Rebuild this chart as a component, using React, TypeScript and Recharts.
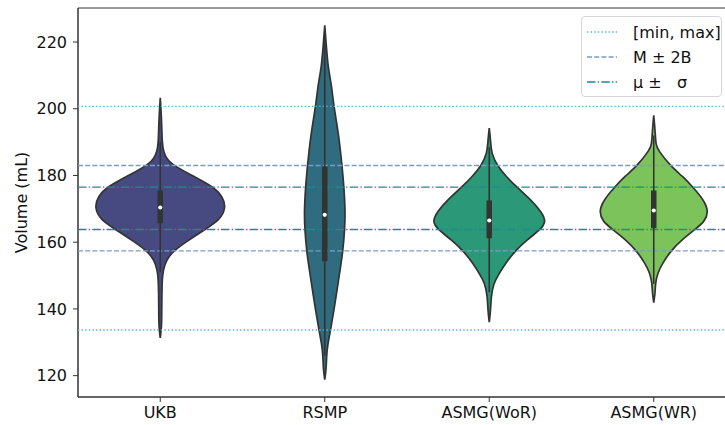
import { ComposedChart, Scatter, XAxis, YAxis, ReferenceLine, ReferenceArea } from "recharts";

const CATEGORIES = ["UKB", "RSMP", "ASMG(WoR)", "ASMG(WR)"];
const COLORS = ["#474a80", "#2f6c7f", "#2b9878", "#7cc35c"];

// violin outlines: volume levels and half-widths (in category units)
const UKB_Y = [131.3, 135, 140, 145, 148.8, 151.7, 154.7, 157.4, 160.2, 163.8, 166.7, 170.4, 173.7, 176.7, 180, 183.5, 185, 187, 190, 196, 203.3];
const UKB_W = [0, 0.009, 0.009, 0.01, 0.012, 0.018, 0.037, 0.08, 0.16, 0.27, 0.364, 0.4, 0.38, 0.32, 0.19, 0.065, 0.04, 0.02, 0.011, 0.009, 0];
const RSMP_Y = [118.8, 122, 125.7, 128.7, 133.9, 142.7, 149.7, 157.4, 163.9, 168.7, 176.5, 183, 192.6, 200.7, 207.5, 212.5, 218.5, 225];
const RSMP_W = [0, 0.009, 0.011, 0.016, 0.036, 0.066, 0.087, 0.111, 0.121, 0.125, 0.117, 0.105, 0.084, 0.055, 0.04, 0.02, 0.01, 0];
const WOR_Y = [136, 140, 143.7, 147.7, 150.2, 153.7, 157.4, 160.7, 163.9, 166.2, 169.2, 172.7, 176.5, 179.7, 182.9, 186.7, 190, 194.2];
const WOR_W = [0, 0.009, 0.011, 0.027, 0.055, 0.1, 0.157, 0.23, 0.314, 0.347, 0.316, 0.253, 0.167, 0.103, 0.048, 0.013, 0.009, 0];
const WR_Y = [141.9, 145, 147.7, 150.7, 153.7, 157.4, 160.7, 163.9, 166.2, 169.2, 172.7, 176.5, 179.7, 182.9, 187.7, 189.2, 193, 198];
const WR_W = [0, 0.009, 0.01, 0.023, 0.053, 0.104, 0.17, 0.253, 0.31, 0.334, 0.304, 0.238, 0.177, 0.1, 0.025, 0.013, 0.009, 0];

const PROFILES = [
  [UKB_Y, UKB_W],
  [RSMP_Y, RSMP_W],
  [WOR_Y, WOR_W],
  [WR_Y, WR_W],
];

// inner box
const Q1 = [165.7, 154.3, 161.2, 164.2];
const Q3 = [175.5, 182.7, 172.5, 175.5];
const MEDIANS = [170.4, 168.2, 166.5, 169.5];
const WHISK_LO = [151, 126, 145, 147.5];
const WHISK_HI = [190, 222, 188.5, 192];

// reference lines
const MINMAX = [200.7, 133.7];
const M2B = [183.0, 157.4];
const MU_SIGMA = [176.5, 163.8];

const Y_TICKS = [120, 140, 160, 180, 200, 220];
const Y_DOMAIN = [113.6, 230.2];

const LINE_STYLES = {
  minmax: { stroke: "#4fb8e0", dash: "1.4 2.2" },
  m2b: { stroke: "#7a9cc8", dash: "5 2.2" },
  mu: { stroke: "#1f8c8c", dash: "8.5 2.2 1.4 2.2" },
};

const LEGEND_ITEMS = [
  { label: "[min, max]", style: LINE_STYLES.minmax },
  { label: "M ± 2B", style: LINE_STYLES.m2b },
  { label: "μ ±\u00a0\u00a0\u00a0σ", style: LINE_STYLES.mu },
];

const FONT = "'DejaVu Sans', sans-serif";

function violinPoints(i: number) {
  const [ys, ws] = PROFILES[i];
  const n = ys.length;
  const right = ys.map((y, k) => ({ x: i + ws[k], y }));
  const tip = { x: i, y: ys[n - 1] };
  const left = ys.map((y, k) => ({ x: i - ws[k], y })).reverse().slice(1);
  // repeat the top tip so the spline passes through it
  return [...right, tip, tip, ...left];
}

const noShape = () => <g />;

export default function App() {
  return (
    <div style={{ position: "absolute", left: 0, top: 0, width: 725, height: 425, overflow: "hidden", background: "#fff" }}>
      <ComposedChart width={740} height={425} margin={{ top: 8, right: 4, bottom: 0, left: 0 }}>
        <XAxis
          type="number"
          dataKey="x"
          domain={[-0.5, 3.5]}
          ticks={[0, 1, 2, 3]}
          tickFormatter={(v) => CATEGORIES[v]}
          allowDataOverflow
          height={28}
          tickSize={5}
          tickMargin={5}
          stroke="#333"
          tick={{ fill: "#111", fontSize: 16, fontFamily: FONT }}
        />
        <YAxis
          type="number"
          dataKey="y"
          domain={Y_DOMAIN}
          ticks={Y_TICKS}
          allowDataOverflow
          width={78}
          tickSize={5}
          tickMargin={6}
          stroke="#333"
          tick={{ fill: "#111", fontSize: 16, fontFamily: FONT }}
          label={{
            content: (p: any) => {
              const vb = p.viewBox || { x: 0, y: 8, height: 389 };
              const cx = vb.x + 21;
              const cy = vb.y + vb.height / 2;
              return (
                <text
                  x={cx}
                  y={cy}
                  transform={`rotate(-90, ${cx}, ${cy})`}
                  textAnchor="middle"
                  dominantBaseline="central"
                  fontSize={16}
                  fontFamily={FONT}
                  fill="#111"
                >
                  Volume (mL)
                </text>
              );
            },
          }}
        />
        {CATEGORIES.map((c, i) => (
          <Scatter
            key={`v-${c}`}
            data={violinPoints(i)}
            shape={noShape}
            line={{ fill: COLORS[i], stroke: "#333", strokeWidth: 1.7 }}
            lineJointType="basis"
            isAnimationActive={false}
            legendType="none"
          />
        ))}
        {MINMAX.map((v) => (
          <ReferenceLine key={`mm-${v}`} y={v} stroke={LINE_STYLES.minmax.stroke} strokeWidth={1.4} strokeDasharray={LINE_STYLES.minmax.dash} zIndex={650} />
        ))}
        {M2B.map((v) => (
          <ReferenceLine key={`mb-${v}`} y={v} stroke={LINE_STYLES.m2b.stroke} strokeWidth={1.4} strokeDasharray={LINE_STYLES.m2b.dash} zIndex={650} />
        ))}
        {MU_SIGMA.map((v) => (
          <ReferenceLine key={`ms-${v}`} y={v} stroke={LINE_STYLES.mu.stroke} strokeWidth={1.4} strokeDasharray={LINE_STYLES.mu.dash} zIndex={650} />
        ))}
        {CATEGORIES.map((c, i) => (
          <Scatter
            key={`w-${c}`}
            data={[{ x: i, y: WHISK_LO[i] }, { x: i, y: WHISK_HI[i] }]}
            shape={noShape}
            line={{ stroke: "#333", strokeWidth: 1.6, fill: "none" }}
            isAnimationActive={false}
            legendType="none"
            zIndex={700}
          />
        ))}
        {CATEGORIES.map((c, i) => (
          <Scatter
            key={`b-${c}`}
            data={[{ x: i, y: Q1[i] }, { x: i, y: Q3[i] }]}
            shape={noShape}
            line={{ stroke: "#333", strokeWidth: 5.5, fill: "none" }}
            isAnimationActive={false}
            legendType="none"
            zIndex={710}
          />
        ))}
        {CATEGORIES.map((c, i) => (
          <Scatter
            key={`m-${c}`}
            data={[{ x: i, y: MEDIANS[i] }]}
            shape={(p: any) => <circle cx={p.cx} cy={p.cy} r={2.1} fill="#fff" />}
            isAnimationActive={false}
            legendType="none"
            zIndex={720}
          />
        ))}
        <ReferenceArea
          x1={-0.5}
          x2={3.5}
          y1={Y_DOMAIN[0]}
          y2={Y_DOMAIN[1]}
          fill="none"
          stroke="#333"
          strokeWidth={1}
          fillOpacity={0}
        />
      </ComposedChart>
      <div
        style={{
          position: "absolute",
          left: 581,
          top: 16,
          width: 141,
          height: 81,
          boxSizing: "border-box",
          background: "rgba(255,255,255,0.85)",
          border: "1px solid #d6d6d6",
          borderRadius: 4,
          fontFamily: FONT,
          fontSize: 16,
          color: "#111",
        }}
      >
        {LEGEND_ITEMS.map((item, k) => (
          <div
            key={item.label}
            style={{ position: "absolute", left: 5, top: 4 + k * 25, height: 22, display: "flex", alignItems: "center", whiteSpace: "pre" }}
          >
            <svg width={30} height={10} style={{ marginRight: 16 }}>
              <line x1={0} x2={30} y1={5} y2={5} stroke={item.style.stroke} strokeWidth={1.4} strokeDasharray={item.style.dash} />
            </svg>
            <span>{item.label}</span>
          </div>
        ))}
      </div>
    </div>
  );
}
